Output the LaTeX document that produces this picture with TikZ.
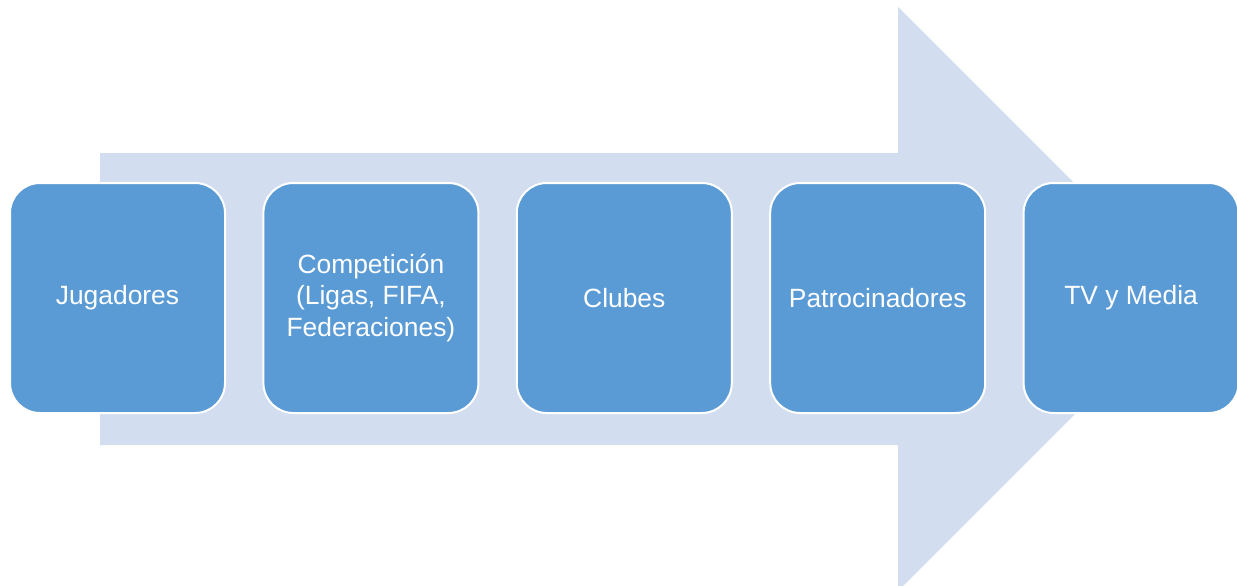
\documentclass[tikz,border=0pt]{standalone}
\usepackage{fontspec}
\setmainfont{Liberation Sans}
\usetikzlibrary{positioning}

\begin{document}
\begin{tikzpicture}[x=0.5pt,y=-0.5pt]
  % Styles and colors
  \definecolor{arrowfill}{HTML}{D2DEEF}
  \definecolor{boxfill}{HTML}{5B9BD5}
  \tikzset{
    stage/.style={draw=white, line width=1pt, fill=boxfill, rounded corners=15pt,
      minimum width=107.5pt, minimum height=115pt, align=center,
      text=white, font=\fontsize{13.2}{15.8}\selectfont},
    flow/.style={fill=arrowfill}
  }
  \useasboundingbox (0,0) rectangle (1237,585);

  % Big background arrow
  \fill[flow] (100,153) -- (898,153) -- (898,7) -- (1190,299)
    -- (898,591) -- (898,445) -- (100,445) -- cycle;

  % Stages
  \node[stage] (jugadores) at (117.5,298) {Jugadores};
  \node[stage, right=18.2pt of jugadores] (competicion) {Competición\\(Ligas, FIFA,\\Federaciones)};
  \node[stage, right=18.2pt of competicion] (clubes) {Clubes};
  \node[stage, right=18.2pt of clubes] (patrocinadores) {Patrocinadores};
  \node[stage, right=18.2pt of patrocinadores] (media) {TV y Media};
\end{tikzpicture}
\end{document}
